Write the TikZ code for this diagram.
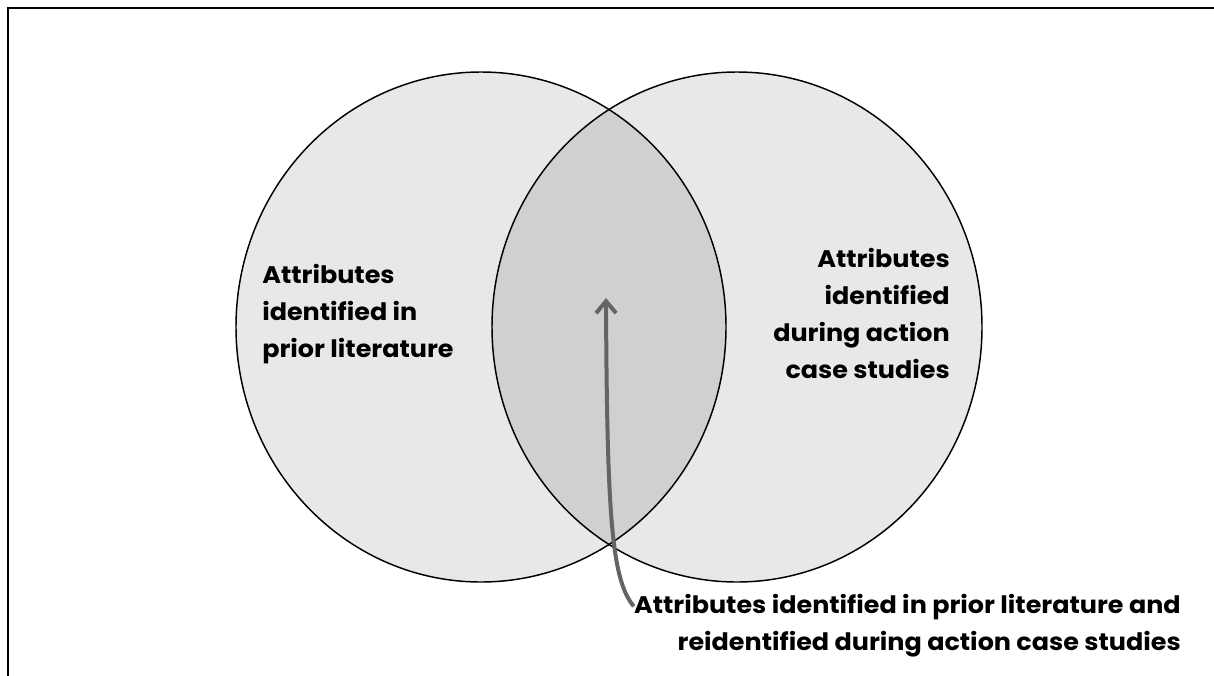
\documentclass[tikz,border=0pt]{standalone}
\usepackage{fontspec}
\setmainfont{Poppins}[FakeStretch=1.06]
\usetikzlibrary{arrows.meta}
\definecolor{circfill}{RGB}{232,232,232}
\definecolor{lensfill}{RGB}{208,208,208}
\definecolor{arrowgray}{RGB}{100,100,100}
\tikzset{
  frameline/.style={line width=1.5pt, black},
  setoutline/.style={line width=1.1pt, black},
  settext/.style={font=\bfseries\fontsize{18}{27.75}\selectfont, inner sep=0pt, text=black},
  pointer/.style={draw=arrowgray, line width=3pt, -{Straight Barb[length=9pt,width=15pt]}},
  setshape/.style={x radius=183.75pt, y radius=191.25pt}
}
\begin{document}
\begin{tikzpicture}[x=0.75pt,y=-0.75pt]
\useasboundingbox (0,0) rectangle (1214,675);
% frame
\draw[frameline] (1220,8) -- (8,8) -- (8,680);
% set centres
\coordinate (lc) at (481,327);
\coordinate (rc) at (737,327);
% fills
\fill[circfill] (lc) ellipse [setshape];
\fill[circfill] (rc) ellipse [setshape];
\begin{scope}
  \clip (lc) ellipse [setshape];
  \fill[lensfill] (rc) ellipse [setshape];
\end{scope}
% outlines
\draw[setoutline] (lc) ellipse [setshape];
\draw[setoutline] (rc) ellipse [setshape];
% texts
\node[settext, align=left, anchor=west] (lefttxt) at (262,314)
  {Attributes\\identified in\\prior literature};
\node[settext, align=right, anchor=east] (righttxt) at (950,313)
  {Attributes\\identified\\during action\\case studies};
\node[settext, align=right, anchor=east] (bottxt) at (1181,626)
  {Attributes identified in prior literature and\\reidentified during action case studies};
% arrow
\coordinate (tip) at (606,298);
\draw[pointer] ([yshift=-9pt]bottxt.north west) .. controls (612,580) and (607,520) .. (tip);
\end{tikzpicture}
\end{document}
